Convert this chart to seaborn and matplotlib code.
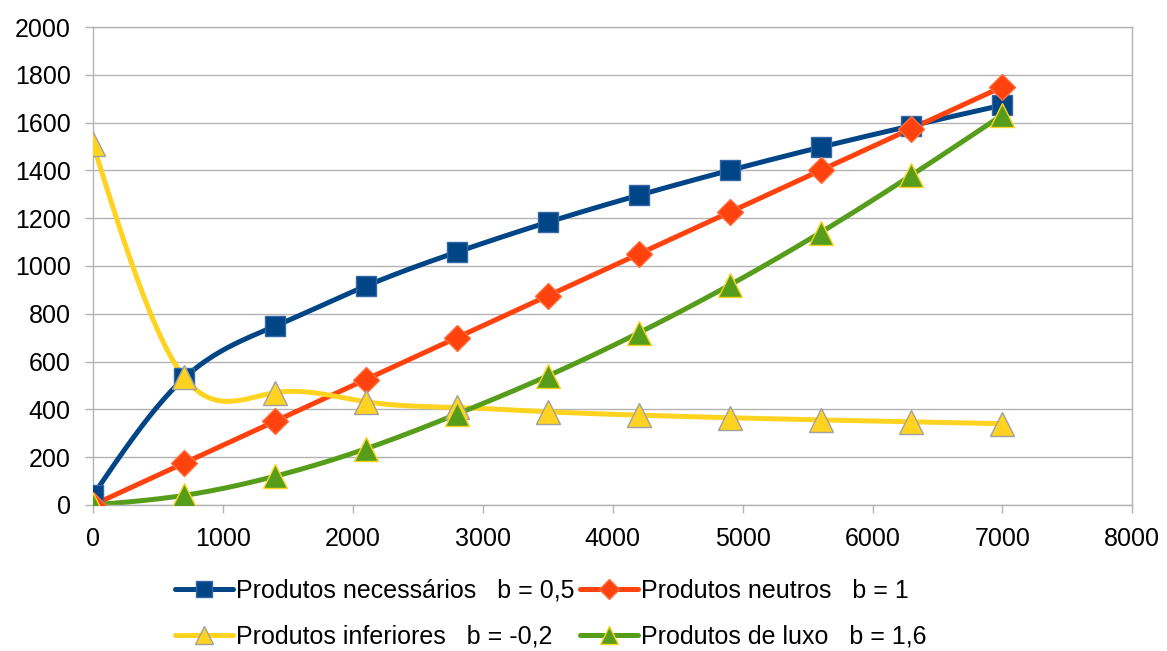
import numpy as np
import pandas as pd
import matplotlib
matplotlib.use("Agg")
import matplotlib.pyplot as plt
import seaborn as sns
from matplotlib.lines import Line2D

# ------------------------------------------------------------------
# DATA
# ------------------------------------------------------------------
renda = [0, 700, 1400, 2100, 2800, 3500, 4200, 4900, 5600, 6300, 7000]
necessarios = [40, 530, 748, 916, 1058, 1183, 1296, 1400, 1497, 1587, 1673]
neutros = [0, 175, 350, 525, 700, 875, 1050, 1225, 1400, 1575, 1750]
inferiores = [1510, 535, 470, 432, 408, 390, 376, 365, 356, 348, 340]
luxo = [0, 40, 120, 235, 380, 540, 720, 920, 1140, 1380, 1632]

labels = [
    "Produtos necessários   b = 0,5",
    "Produtos neutros   b = 1",
    "Produtos inferiores   b = -0,2",
    "Produtos de luxo   b = 1,6",
]
x_ticks = [0, 1000, 2000, 3000, 4000, 5000, 6000, 7000, 8000]
y_ticks = [0, 200, 400, 600, 800, 1000, 1200, 1400, 1600, 1800, 2000]


def natural_spline(x, y, n=400):
    # natural cubic spline, only used to draw the smoothed line
    x = np.asarray(x, float)
    y = np.asarray(y, float)
    k = len(x)
    h = np.diff(x)
    A = np.zeros((k, k))
    r = np.zeros(k)
    A[0, 0] = A[-1, -1] = 1
    for i in range(1, k - 1):
        A[i, i - 1] = h[i - 1]
        A[i, i] = 2 * (h[i - 1] + h[i])
        A[i, i + 1] = h[i]
        r[i] = 6 * ((y[i + 1] - y[i]) / h[i] - (y[i] - y[i - 1]) / h[i - 1])
    m = np.linalg.solve(A, r)
    xs = np.linspace(x[0], x[-1], n)
    idx = np.clip(np.searchsorted(x, xs) - 1, 0, k - 2)
    x0, x1 = x[idx], x[idx + 1]
    hh = x1 - x0
    a = (x1 - xs) / hh
    b = (xs - x0) / hh
    ys = (a * y[idx] + b * y[idx + 1]
          + ((a ** 3 - a) * m[idx] + (b ** 3 - b) * m[idx + 1]) * hh ** 2 / 6)
    return xs, ys


sns.set_theme(style="white", rc={
    "xtick.bottom": True, "ytick.left": True,
    "xtick.major.size": 6, "ytick.major.size": 6,
    "xtick.major.width": 1, "ytick.major.width": 1,
    "xtick.color": "#b3b3b3", "ytick.color": "#b3b3b3",
    "xtick.labelcolor": "black", "ytick.labelcolor": "black",
    "text.color": "black",
})
plt.rcParams["font.family"] = ["Liberation Sans", "DejaVu Sans"]

fig = plt.figure(figsize=(11.67, 6.51), dpi=100)
ax = fig.add_axes([0.0797, 0.2243, 0.8906, 0.7342])

series = [
    (necessarios, labels[0], "#004586", "#3465a4", "s", 15),
    (neutros, labels[1], "#ff420e", "#ff6d3a", "D", 13),
    (inferiores, labels[2], "#ffd320", "#a0a0a0", "^", 17),
    (luxo, labels[3], "#579d1c", "#ffd320", "^", 17),
]

handles = []
for vals, lab, col, edge, mk, ms in series:
    xs, ys = natural_spline(renda, vals)
    sns.lineplot(x=xs, y=ys, ax=ax, color=col, linewidth=3.6, sort=False)
    df = pd.DataFrame({"x": renda, "y": vals})
    ax.plot(df["x"], df["y"], linestyle="none", marker=mk, markersize=ms,
            markerfacecolor=col, markeredgecolor=edge, markeredgewidth=1.0,
            zorder=3)
    handles.append(Line2D([], [], color=col, linewidth=3.6, marker=mk,
                          markersize=ms * 0.8, markerfacecolor=col,
                          markeredgecolor=edge, label=lab))

ax.set_xlim(0, 8000)
ax.set_ylim(0, 2000)
ax.set_xticks(x_ticks)
ax.set_yticks(y_ticks)
ax.grid(axis="y", color="#b3b3b3", linewidth=1)
ax.set_axisbelow(True)
for s in ax.spines.values():
    s.set_color("#b3b3b3")
    s.set_linewidth(1)
ax.tick_params(axis="both", which="major", direction="out", length=6,
               width=1, labelsize=18, pad=10)
ax.set_xlabel("")
ax.set_ylabel("")

order = [handles[0], handles[2], handles[1], handles[3]]
fig.legend(handles=order, loc="center left", bbox_to_anchor=(0.15, 0.057),
           ncol=2, frameon=False, fontsize=18, handlelength=2.3,
           handletextpad=0.12, columnspacing=0.25, labelspacing=0.88,
           borderpad=0, borderaxespad=0)

fig.savefig("out.png", dpi=100)
